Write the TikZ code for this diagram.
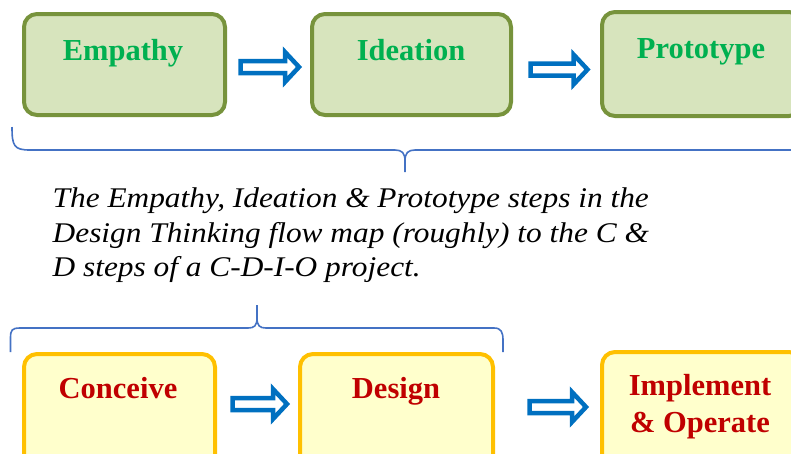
\documentclass[tikz,border=0pt]{standalone}
\usepackage{fontspec}
\setmainfont{Liberation Serif}
\newfontfamily\capfont[FakeStretch=1.1]{Liberation Serif}
\definecolor{gfill}{RGB}{215,228,189}
\definecolor{gline}{RGB}{119,147,60}
\definecolor{gtext}{RGB}{0,176,80}
\definecolor{yfill}{RGB}{255,255,204}
\definecolor{yline}{RGB}{255,192,0}
\definecolor{ytext}{RGB}{192,0,0}
\definecolor{arrblue}{RGB}{0,112,192}
\definecolor{braceblue}{RGB}{68,114,196}
\tikzset{
  gbox/.style={draw=gline, fill=gfill, line width=4pt, rounded corners=13pt, inner sep=0pt, outer sep=0pt},
  ybox/.style={draw=yline, fill=yfill, line width=4pt, rounded corners=13pt, inner sep=0pt, outer sep=0pt},
  gtxt/.style={text=gtext, font=\bfseries\fontsize{30.5}{37}\selectfont, inner sep=0pt, anchor=base},
  ytxt/.style={text=ytext, font=\bfseries\fontsize{30.5}{37}\selectfont, inner sep=0pt, anchor=base, align=center},
  blockarr/.style={draw=arrblue, fill=white, line width=4.5pt, line join=miter},
  bracepath/.style={draw=braceblue, line width=1.6pt},
  captxt/.style={font=\capfont\itshape\fontsize{28.5}{34.5}\selectfont, inner sep=0pt, anchor=base west}
}
\begin{document}
\begin{tikzpicture}[x=1pt,y=-1pt]
\useasboundingbox (0,0) rectangle (791,453);
\clip (0,0) rectangle (791,453);
% top boxes
\node[gbox, minimum width=201pt, minimum height=101pt] (emp) at (124.5,64.5) {};
\node[gbox, minimum width=199pt, minimum height=101pt] (ide) at (411.5,64.5) {};
\node[gbox, minimum width=200pt, minimum height=104pt] (pro) at (702,64) {};
\node[gtxt] (empT) at (123,60) {Empathy};
\node[gtxt] (ideT) at (411,60) {Ideation};
\node[gtxt] (proT) at (701,58) {Prototype};
% bottom boxes
\node[ybox, minimum width=191pt, minimum height=130pt] (con) at (119.5,419) {};
\node[ybox, minimum width=193pt, minimum height=130pt] (des) at (396.5,419) {};
\node[ybox, minimum width=200pt, minimum height=130pt] (imp) at (702,417) {};
\node[ytxt] (conT) at (118,398) {Conceive};
\node[ytxt] (desT) at (396,398) {Design};
\node[ytxt] (impT) at (700,432) {Implement\\\& Operate};
% block arrows
\coordinate (a1) at (240.5,67);
\coordinate (a2) at (530.5,69.5);
\coordinate (a3) at (232.5,404);
\coordinate (a4) at (529.5,407);
\draw[blockarr] (a1) ++(0,-6) -- ++(44.5,0) -- ++(0,-9) -- ++(14,15) -- ++(-14,15) -- ++(0,-9) -- ++(-44.5,0) -- cycle;
\draw[blockarr] (a2) ++(0,-6) -- ++(43,0) -- ++(0,-9) -- ++(14,15) -- ++(-14,15) -- ++(0,-9) -- ++(-43,0) -- cycle;
\draw[blockarr] (a3) ++(0,-6) -- ++(40.5,0) -- ++(0,-9) -- ++(14,15) -- ++(-14,15) -- ++(0,-9) -- ++(-40.5,0) -- cycle;
\draw[blockarr] (a4) ++(0,-6) -- ++(42.5,0) -- ++(0,-9) -- ++(14,15) -- ++(-14,15) -- ++(0,-9) -- ++(-42.5,0) -- cycle;
% top brace
\coordinate (tbL) at (12,127);
\coordinate (tbTip) at (405,172);
\coordinate (tbR) at (800,150);
\draw[bracepath] (tbL) .. controls (12,146) and (14,150) .. (30,150) -- (395,150)
  .. controls (402,150) and (405,153) .. (405,161) -- (tbTip)
  (405,161) .. controls (405,153) and (408,150) .. (415,150) -- (tbR);
% bottom brace
\coordinate (bbL) at (10.5,352);
\coordinate (bbTip) at (257,305);
\coordinate (bbR) at (503,352);
\draw[bracepath] (bbL) -- (10.5,338) .. controls (10.5,330) and (12,328) .. (20,328) -- (248,328)
  .. controls (254,328) and (257,326) .. (257,318) -- (bbTip)
  (257,318) .. controls (257,326) and (260,328) .. (266,328) -- (494,328)
  .. controls (501,328) and (503,332) .. (503,340) -- (bbR);
% caption
\node[captxt] (cap1) at (52.5,207) {The Empathy, Ideation \& Prototype steps in the};
\node[captxt] (cap2) at (52.5,242) {Design Thinking flow map (roughly) to the C \&};
\node[captxt] (cap3) at (52.5,276.5) {D steps of a C-D-I-O project.};
\end{tikzpicture}
\end{document}
